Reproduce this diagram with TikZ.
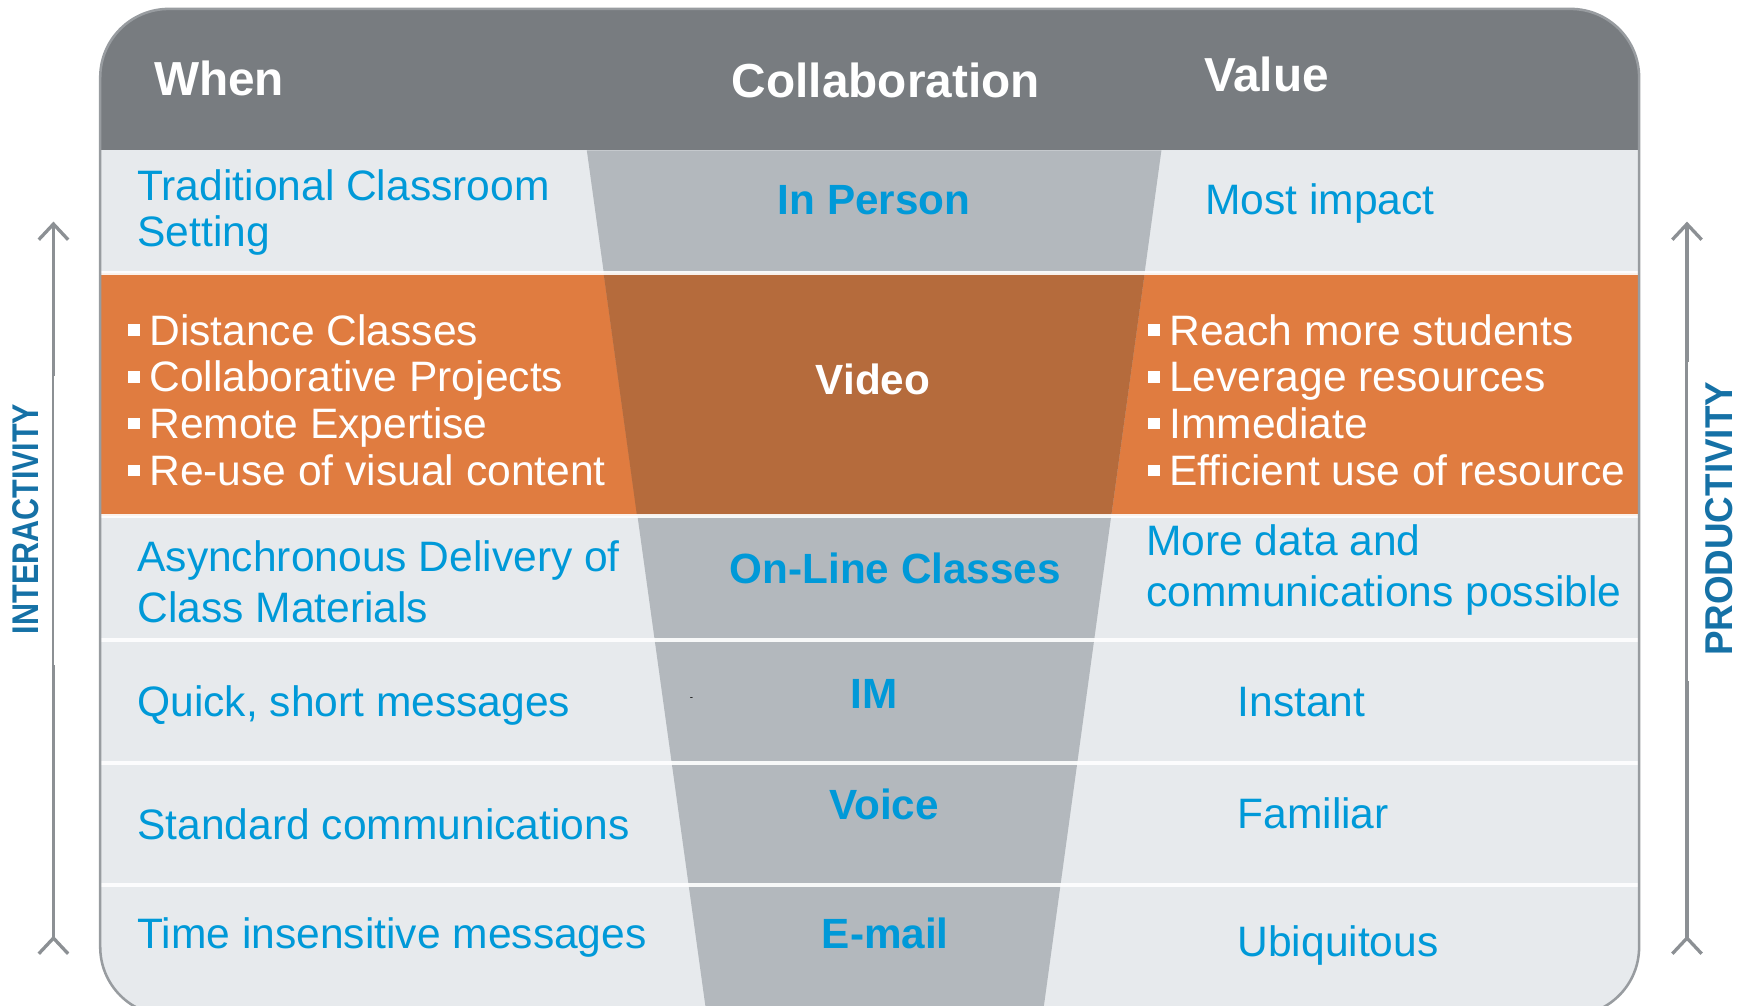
\documentclass[tikz,border=0pt]{standalone}
\usepackage{fontspec}
\setmainfont{Liberation Sans}
\usepackage{xcolor}
\usetikzlibrary{arrows.meta}

\definecolor{hdrgray}{HTML}{787C80}
\definecolor{rowbg}{HTML}{E7EAED}
\definecolor{fungray}{HTML}{B3B8BD}
\definecolor{orng}{HTML}{E07C40}
\definecolor{orngdark}{HTML}{B56B3C}
\definecolor{cblue}{HTML}{0099D8}
\definecolor{sideblue}{HTML}{1571A6}
\definecolor{axisgray}{HTML}{8C9094}
\definecolor{framegray}{HTML}{989CA0}

\newcommand{\bul}{\rule[0.22em]{0.27em}{0.27em}\hspace{0.22em}}

\begin{document}
\begin{tikzpicture}[x=0.2mm, y=-0.2mm,
    body/.style={inner sep=0pt, anchor=base west, text=cblue, font=\fontsize{21.75}{24}\selectfont},
    bodyw/.style={body, text=white},
    head/.style={inner sep=0pt, anchor=base west, text=white, font=\fontsize{24.4}{28}\selectfont\bfseries},
    medium/.style={inner sep=0pt, anchor=base, text=cblue, font=\fontsize{21.6}{24}\selectfont\bfseries},
    side/.style={inner sep=0pt, text=sideblue, rotate=90},
    axis/.style={line width=1.7pt, draw=axisgray, {Straight Barb[reversed,length=8pt,width=15pt]}-{Straight Barb[length=8pt,width=15pt]}},
    sep/.style={white, line width=2pt, opacity=0.9}
]
\useasboundingbox (0,0) rectangle (1568,903);
\clip (0,0) rectangle (1568,903);

% Frame, header and video row
\fill[rowbg, rounded corners=35pt] (90,8) rectangle (1472,912);
\begin{scope}
    \clip[rounded corners=35pt] (90,8) rectangle (1472,912);
    \fill[hdrgray] (90,8) rectangle (1472,135);
    \fill[orng] (90,245) rectangle (1472,463);
    % Funnel
    \fill[fungray] (527,135) -- (1043,135) -- (929,965) -- (642,965) -- cycle;
    \fill[orngdark] (542,245) -- (1028,245) -- (998,463) -- (572,463) -- cycle;
\end{scope}

% Row separators
\foreach \y in {245,463,575,685,795}
    \draw[sep] (91,\y) -- (1471,\y);
\draw[framegray, line width=1.3pt, rounded corners=35pt] (90,8) rectangle (1472,912);

% Header
\node[head] (when) at (138,86) {When};
\node[head] (collab) at (657,88) {Collaboration};
\node[head] (value) at (1081,82) {Value};

% In person
\node[body] (trad1) at (123,180) {Traditional Classroom};
\node[body] (trad2) at (123,221) {Setting};
\node[medium] (person) at (785,193) {In Person};
\node[body] (impact) at (1082,193) {Most impact};

% Video
\node[bodyw] (dist) at (115,310) {\bul Distance Classes};
\node[bodyw] (proj) at (115,352) {\bul Collaborative Projects};
\node[bodyw] (expert) at (115,394) {\bul Remote Expertise};
\node[bodyw] (reuse) at (115,436) {\bul Re-use of visual content};
\node[medium, text=white] (video) at (784,354) {Video};
\node[bodyw] (reach) at (1031,310) {\bul Reach more students};
\node[bodyw] (leverage) at (1031,352) {\bul Leverage resources};
\node[bodyw] (immediate) at (1031,394) {\bul Immediate};
\node[bodyw] (efficient) at (1031,436) {\bul Efficient use of resource};

% On-line classes
\node[body] (async1) at (123,513) {Asynchronous Delivery of};
\node[body] (async2) at (123,559) {Class Materials};
\node[medium] (online) at (804,524) {On-Line Classes};
\node[body] (more1) at (1029,499) {More data and};
\node[body] (more2) at (1029,545) {communications possible};

% IM
\node[body] (quick) at (123,643) {Quick, short messages};
\node[inner sep=0pt, font=\fontsize{5}{6}\selectfont] (dash) at (621,628) {-};
\node[medium] (im) at (785,636) {IM};
\node[body] (instant) at (1111,643) {Instant};

% Voice
\node[body] (standard) at (123,754) {Standard communications};
\node[medium] (voice) at (794,736) {Voice};
\node[body] (familiar) at (1111,744) {Familiar};

% E-mail
\node[body] (timeins) at (123,852) {Time insensitive messages};
\node[medium] (email) at (795,852) {E-mail};
\node[body] (ubiq) at (1111,859) {Ubiquitous};

% Side axes
\coordinate (ibot) at (48,858);
\coordinate (itop) at (48,199);
\coordinate (pbot) at (1515,858);
\coordinate (ptop) at (1515,199);
\draw[axis] (ibot) -- (itop);
\draw[axis] (pbot) -- (ptop);
\fill[white] (48.6,338) rectangle (62,597);
\fill[white] (1515.6,325) rectangle (1530,612);
\node[side, xscale=0.82, font=\fontsize{19}{21}\selectfont\bfseries] (inter) at (23,466) {INTERACTIVITY};
\node[side, xscale=0.95, font=\fontsize{19.8}{22}\selectfont\bfseries] (prod) at (1544,466) {PRODUCTIVITY};
\end{tikzpicture}
\end{document}
